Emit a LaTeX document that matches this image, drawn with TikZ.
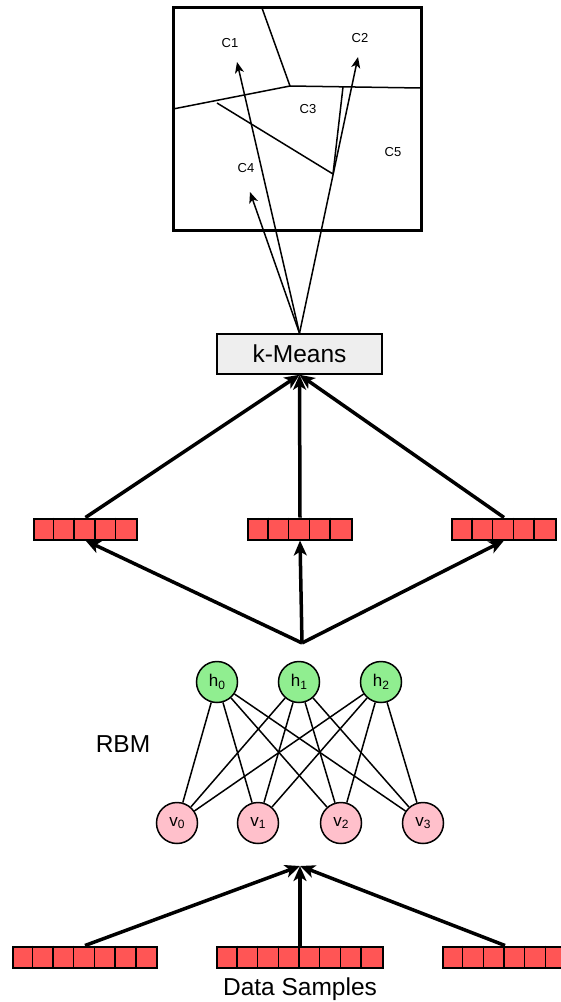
\documentclass[tikz,border=0pt]{standalone}
\usepackage{fontspec}
\setmainfont{Liberation Sans}
\usetikzlibrary{arrows.meta}

\definecolor{cellred}{HTML}{FF5555}
\definecolor{hidgreen}{HTML}{90EE90}
\definecolor{vispink}{HTML}{FFC0CB}
\definecolor{boxgray}{HTML}{EEEEEE}

\newcommand{\lowidx}[1]{\raisebox{-2.5pt}{\fontsize{12}{12}\selectfont #1}}

\tikzset{
  vecbox/.style={draw, line width=2pt, fill=cellred, minimum height=21pt, inner sep=0pt},
  unit/.style={draw, circle, line width=1.5pt, minimum size=41pt, inner sep=0pt, font=\fontsize{17}{17}\selectfont},
  hid/.style={unit, fill=hidgreen},
  vis/.style={unit, fill=vispink},
  fat/.style={-{Stealth[length=15pt,width=13pt,inset=4pt]}, line width=3.5pt},
  slim/.style={-{Stealth[length=11pt,width=9pt,inset=3pt]}, line width=1.5pt},
  cname/.style={font=\fontsize{13}{13}\selectfont},
  big/.style={font=\fontsize{24.5}{24.5}\selectfont},
}

\begin{document}
\begin{tikzpicture}[x=1pt, y=-1pt]
	\clip (0,0) rectangle (561,1002);

	% clusters
	\node[draw, line width=3pt, minimum width=248pt, minimum height=223pt] (clus) at (297,118.5) {};
	\draw[line width=1.5pt] (262,8) -- (290,86) -- (421,88);
	\draw[line width=1.5pt] (173,109) -- (290,86);
	\draw[line width=1.5pt] (217,103) -- (333,174);
	\draw[line width=1.5pt] (343,87) -- (333,174);
	\node[cname] (c1) at (230,43) {C1};
	\node[cname] (c2) at (360,38) {C2};
	\node[cname] (c3) at (308,109) {C3};
	\node[cname] (c4) at (246,168) {C4};
	\node[cname] (c5) at (393,152) {C5};
	\coordinate (p1) at (237,62);
	\coordinate (p2) at (358,57);
	\coordinate (p4) at (250,192);

	\node[draw, line width=1.5pt, fill=boxgray, minimum width=165pt, minimum height=40pt, big] (km) at (299.5,354) {k-Means};

	% feature and data vectors
	\foreach \nm/\cx/\cy/\n in {m1/85.5/529/5, m2/300/529/5, m3/504/529/5, d1/85/957/7, d2/300/957/8, d3/505/957/6} {
		\node[vecbox, minimum width=\n*20.7pt] (\nm) at (\cx,\cy) {};
		\foreach \k in {2,...,\n}
			\draw[line width=1.5pt] ([xshift=(\k-1)*20.7pt]\nm.north west) -- ([xshift=(\k-1)*20.7pt]\nm.south west);
	}

	% RBM
	\node[hid] (h0) at (217,682) {h\lowidx{0}};
	\node[hid] (h1) at (299,682) {h\lowidx{1}};
	\node[hid] (h2) at (381,682) {h\lowidx{2}};
	\node[vis] (v0) at (177,823) {v\lowidx{0}};
	\node[vis] (v1) at (258,823) {v\lowidx{1}};
	\node[vis] (v2) at (341,823) {v\lowidx{2}};
	\node[vis] (v3) at (423,823) {v\lowidx{3}};
	\foreach \i in {0,1,2}
		\foreach \j in {0,...,3}
			\draw[line width=1.5pt] (h\i) -- (v\j);
	\node[big] (rbm) at (123,744) {RBM};
	\node[big, anchor=base] (data) at (300,995) {Data Samples};

	\coordinate (fan) at (302,643);
	\coordinate (merge) at (300,866);

	\draw[slim] (km.north) -- (p1);
	\draw[slim] (km.north) -- (p2);
	\draw[slim] (km.north) -- (p4);
	\draw[fat] (m1.north) -- (km.south);
	\draw[fat] (m2.north) -- (km.south);
	\draw[fat] (m3.north) -- (km.south);
	\draw[fat] (fan) -- (m1.south);
	\draw[fat] (fan) -- (m2.south);
	\draw[fat] (fan) -- (m3.south);
	\draw[fat] (d1.north) -- (merge);
	\draw[fat] (d2.north) -- (merge);
	\draw[fat] (d3.north) -- (merge);
\end{tikzpicture}
\end{document}
